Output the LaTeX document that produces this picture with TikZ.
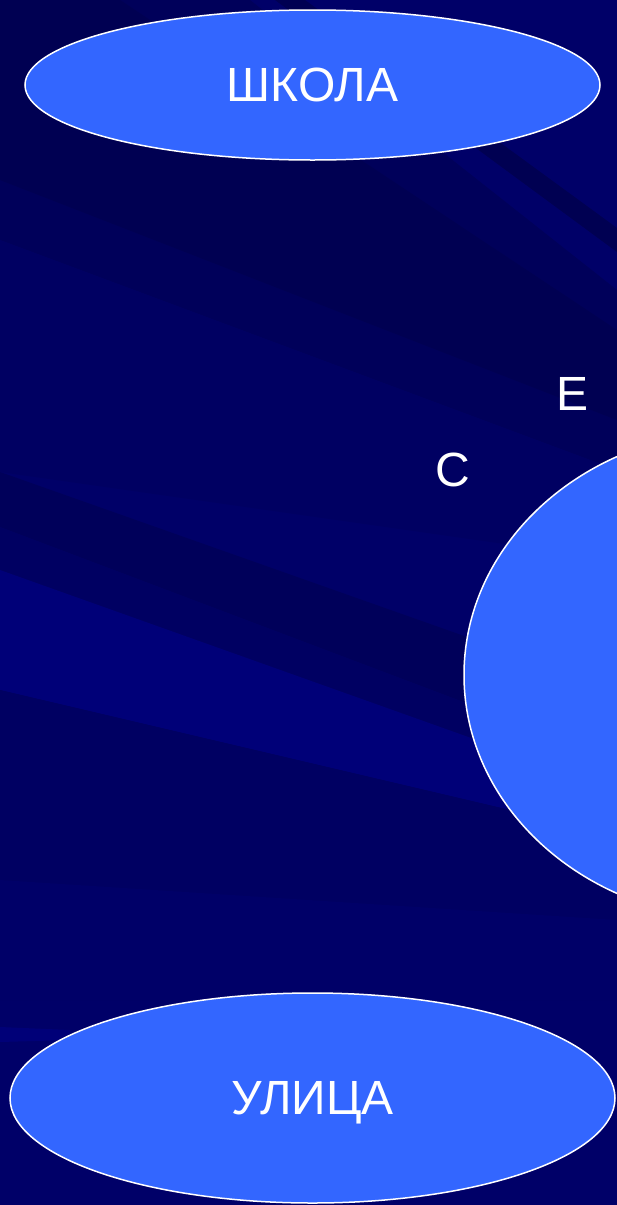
\documentclass[tikz,border=0pt]{standalone}
\usepackage{fontspec}
\setmainfont{Liberation Sans}
\usetikzlibrary{shapes.geometric}
\definecolor{bgbase}{RGB}{0,0,104}
\definecolor{bgdark}{RGB}{0,0,90}
\definecolor{bgdarker}{RGB}{0,0,82}
\definecolor{bgmid}{RGB}{0,0,98}
\definecolor{bglight}{RGB}{0,0,120}
\definecolor{ovalfill}{RGB}{51,102,255}
\tikzset{
  oval/.style={ellipse, fill=ovalfill, draw=white, line width=1.5pt, inner sep=0pt, text=white,
    font=\fontsize{48}{58}\selectfont, text depth=0pt},
  letter/.style={text=white, inner sep=0pt, font=\fontsize{48}{58}\selectfont, text depth=0pt}
}
\begin{document}
\begin{tikzpicture}[x=1pt,y=-1pt]
\useasboundingbox (0,0) rectangle (617,1205);
\begin{scope}
\clip (0,0) rectangle (617,1205);
% background
\fill[bgbase] (0,0) rectangle (617,1205);
\fill[bgdark] (0,0) -- (250,0) -- (617,290) -- (617,470) -- (0,240) -- cycle;
\fill[bgmid] (0,240) -- (617,470) -- (617,560) -- (0,472) -- cycle;
\fill[bgdarker] (0,0) -- (120,0) -- (617,330) -- (617,420) -- (0,180) -- cycle;
\fill[bgdarker] (275,0) -- (305,0) -- (617,228) -- (617,252) -- cycle;
\fill[bgdark] (0,472) -- (617,690) -- (617,760) -- (0,527) -- cycle;
\fill[bgmid] (0,527) -- (617,760) -- (617,800) -- (0,570) -- cycle;
\fill[bglight] (0,570) -- (617,790) -- (617,840) -- (510,810) -- (0,690) -- cycle;
\fill[bgmid] (0,690) -- (510,810) -- (617,850) -- (617,1000) -- (0,1000) -- cycle;
\fill[bgbase] (0,880) -- (617,920) -- (617,1000) -- (0,1000) -- cycle;
\fill[bglight] (0,1027) -- (70,1030) -- (70,1040) -- (0,1042) -- cycle;
% ovals
\node[oval, minimum width=575pt, minimum height=150pt] (school) at (312.5,85) {ШКОЛА};
\node[oval, minimum width=605pt, minimum height=210pt] (street) at (312.5,1098) {УЛИЦА};
\node[oval, minimum width=560pt, minimum height=490pt] (family) at (744,675) {};
\end{scope}
\node[letter] (e) at (573,394) {Е};
\node[letter] (s) at (453,470) {С};
\end{tikzpicture}
\end{document}
